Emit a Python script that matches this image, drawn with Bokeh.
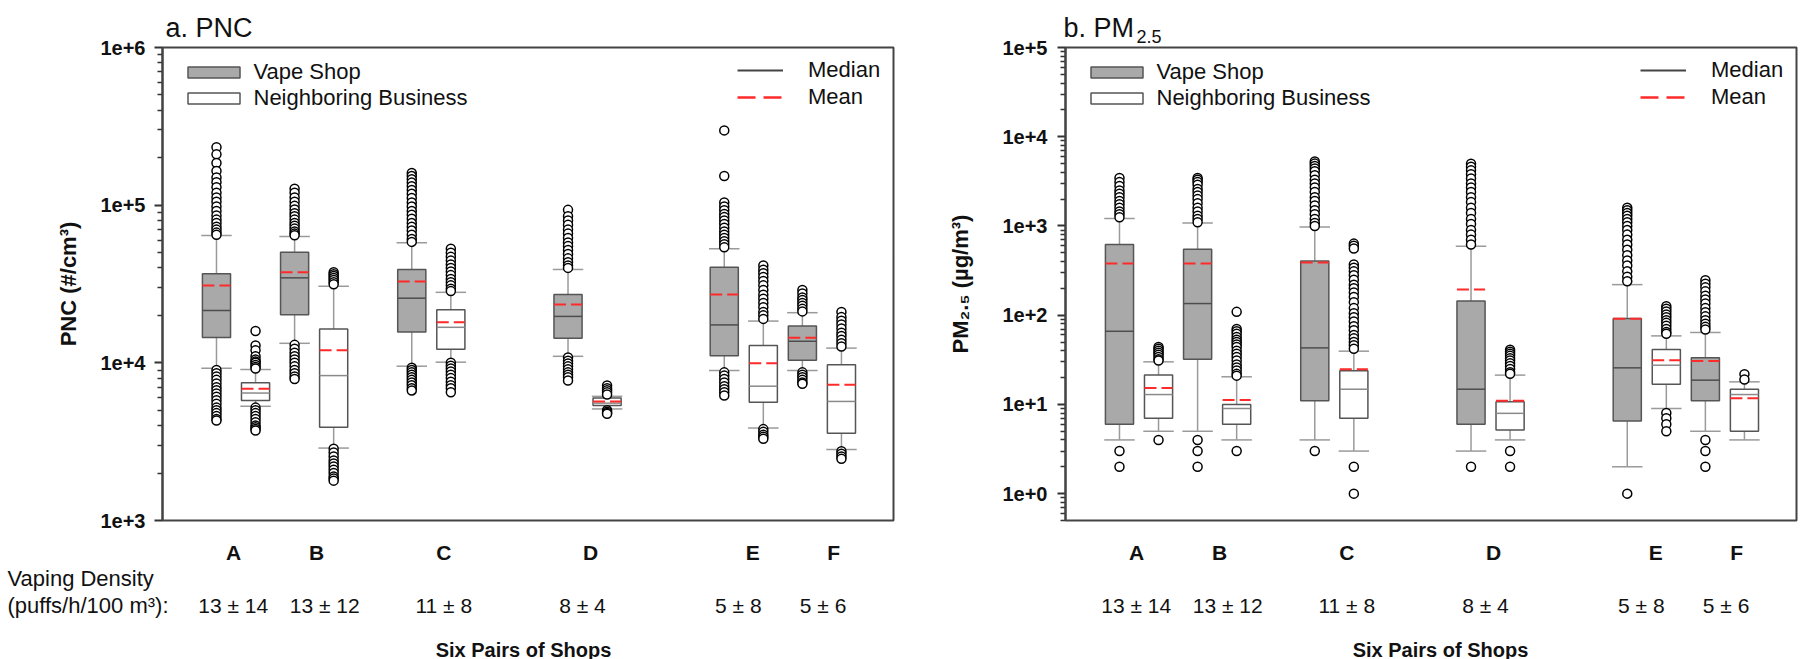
import math
from bokeh.plotting import figure
from bokeh.models import (Range1d, FixedTicker, CustomJSTickFormatter, Label, BoxAnnotation,
                          Legend, LegendItem, ColumnDataSource)
from bokeh.layouts import row
from bokeh.embed import file_html
from bokeh.resources import INLINE

# ---------------- data ----------------
pairs = ["A", "B", "C", "D", "E", "F"]
density = ["13 \u00b1 14", "13 \u00b1 12", "11 \u00b1 8", "8 \u00b1 4", "5 \u00b1 8", "5 \u00b1 6"]

# PNC (#/cm3) - vape shops
pnc_vape_low = [9250, 13300, 9520, 11000, 8940, 8940]
pnc_vape_q1 = [14500, 20200, 15700, 14300, 11100, 10400]
pnc_vape_median = [21500, 34600, 25700, 19700, 17400, 13700]
pnc_vape_q3 = [36700, 50300, 39100, 27100, 40400, 17100]
pnc_vape_high = [64300, 63300, 57700, 39100, 52900, 20800]
pnc_vape_mean = [30900, 37600, 32800, 23400, 27100, 14400]
pnc_vape_outliers = [
    [233000, 210000, 185000, 165000, 150000, 140000, 130000, 120000, 112000, 105000, 98000,
     92000, 86000, 81000, 77000, 73000, 70000, 67000, 65000,
     9000, 8600, 8200, 7800, 7400, 7000, 6700, 6400, 6100, 5800, 5500, 5200, 5000, 4800, 4600, 4400, 4300],
    [127000, 120000, 112000, 105000, 99000, 94000, 89000, 85000, 81000, 77000, 74000, 71000, 68000, 66000, 64500,
     13000, 12300, 11600, 11000, 10500, 10000, 9500, 9000, 8600, 8200, 7900],
    [160000, 153000, 146000, 139000, 132000, 125000, 118000, 111000, 104000, 98000, 92000, 87000, 82000,
     77000, 73000, 69000, 65000, 61000, 58500,
     9300, 9000, 8700, 8400, 8100, 7800, 7500, 7200, 6900, 6680],
    [93400, 85000, 80000, 75000, 70000, 66000, 62000, 58000, 55000, 52000, 49000, 46000, 43500, 41500, 40000,
     10800, 10300, 9900, 9500, 9100, 8700, 8400, 8100, 7730],
    [298000, 153000, 104000, 98000, 93000, 88000, 84000, 80000, 76000, 72000, 68000, 65000, 62000, 59000, 56500, 54000,
     8700, 8300, 7900, 7500, 7100, 6800, 6500, 6200],
    [29000, 27500, 26000, 25000, 24000, 23000, 22000, 21200,
     8700, 8400, 8100, 7800, 7500, 7370],
]
# PNC - neighboring businesses
pnc_nb_low = [5300, 2880, 10100, 5100, 3860, 2820]
pnc_nb_q1 = [5770, 3910, 12200, 5370, 5630, 3580]
pnc_nb_median = [6430, 8300, 16800, 5550, 7110, 5690]
pnc_nb_q3 = [7470, 16400, 21700, 5980, 12900, 9720]
pnc_nb_high = [9070, 30600, 28000, 6130, 18400, 12400]
pnc_nb_mean = [6840, 12000, 18100, 5690, 9950, 7260]
pnc_nb_outliers = [
    [15900, 12900, 12000, 11000, 10500, 10200, 10000, 9700, 9400, 9200,
     5200, 5000, 4800, 4600, 4400, 4200, 4000, 3900, 3800, 3720],
    [37600, 36500, 35500, 34500, 33500, 32500, 31500,
     2850, 2700, 2550, 2400, 2300, 2200, 2100, 2000, 1900, 1850, 1790],
    [52900, 50000, 47000, 44500, 42000, 40000, 38000, 36000, 34000, 32500, 31000, 29500, 28500,
     10000, 9600, 9200, 8800, 8400, 8000, 7600, 7200, 6900, 6510],
    [7180, 6900, 6700, 6500, 6300,
     5000, 4900, 4800, 4750],
    [41400, 39000, 37000, 35000, 33000, 31000, 29000, 27000, 25500, 24000, 22500, 21000, 20000, 19000,
     3800, 3650, 3500, 3400, 3300],
    [21000, 19500, 18500, 17500, 16500, 15500, 14800, 14000, 13300, 12700,
     2750, 2650, 2550, 2460],
]

# PM2.5 (ug/m3) - vape shops
pm_vape_low = [4, 5, 4, 3, 2, 5]
pm_vape_q1 = [6.0, 32, 11, 6, 6.5, 11]
pm_vape_median = [66, 135, 43, 14.8, 25.7, 18.7]
pm_vape_q3 = [618, 548, 405, 144, 92, 33.3]
pm_vape_high = [1210, 1080, 975, 592, 220, 64]
pm_vape_mean = [380, 380, 390, 194, 91, 30.6]
pm_vape_outliers = [
    [3440, 3100, 2800, 2500, 2300, 2100, 1900, 1750, 1600, 1450, 1350, 1250, 3, 2],
    [3440, 3300, 3100, 2900, 2600, 2400, 2200, 2000, 1800, 1600, 1450, 1300, 1200, 1100, 4, 3, 2],
    [5290, 5000, 4700, 4400, 4100, 3700, 3300, 3000, 2700, 2400, 2100, 1900, 1700, 1500, 1350, 1200,
     1080, 1000, 3],
    [4990, 4600, 4200, 3800, 3400, 3000, 2700, 2400, 2100, 1850, 1600, 1400, 1200, 1050, 900, 800, 700, 620, 2],
    [1600, 1500, 1400, 1300, 1200, 1100, 1000, 900, 800, 700, 620, 540, 470, 410, 360, 310, 270, 240, 1],
    [247, 225, 205, 185, 165, 150, 135, 120, 108, 97, 88, 80, 74, 69, 4, 3, 2],
]
# PM2.5 - neighboring businesses
pm_nb_low = [5, 4, 3, 4, 9, 4]
pm_nb_q1 = [7.0, 6, 7, 5.16, 16.8, 5]
pm_nb_median = [12.9, 9, 14.8, 7.94, 27.5, 12.9]
pm_nb_q3 = [21.3, 10, 23.8, 10.7, 41.3, 14.8]
pm_nb_high = [30, 20.4, 39.5, 21.3, 58.6, 17.9]
pm_nb_mean = [15.3, 11.2, 24.8, 11, 31.3, 11.7]
pm_nb_outliers = [
    [44, 42, 40, 38, 36, 34, 32, 31, 4],
    [109, 70, 66, 62, 57, 53, 50, 47, 44, 40, 37, 34, 31, 28, 26, 24, 22, 21, 3],
    [634, 600, 560, 370, 340, 310, 280, 250, 220, 200, 180, 160, 140, 120, 105, 95, 85, 75, 68, 60,
     55, 50, 46, 42, 2, 1],
    [41, 39, 37, 35, 33, 31, 29, 27, 25, 23, 22, 3, 2],
    [126, 118, 110, 102, 95, 88, 82, 76, 70, 65, 62, 8, 7, 6, 5],
    [21.8, 19],
]

# ---------------- layout / style ----------------
FONT = "Liberation Sans"
TXT = "#111111"
VAPE_FILL = "#a9a9a9"
BOX_LINE = "#555555"
WHISK = "#9a9a9a"
FRAME_C = "#444444"
MEAN_C = "#ff2a2a"
NAN = float("nan")

pair_center = [0.5, 2.5, 5.5, 9.5, 13.5, 15.5]
letter_x = [0.44, 2.56, 5.82, 9.58, 13.73, 15.80]
density_x = [0.43, 2.77, 5.82, 9.37, 13.36, 15.53]
vape_x = [c - 0.5 for c in pair_center]
nb_x = [c + 0.5 for c in pair_center]

BOX_W = 0.72
CAP_W = 0.78
PX_PER_SLOT = 39.06
X_VIS_START = -1.382
BOX_W_PX = 731
X_VIS_END = X_VIS_START + BOX_W_PX / PX_PER_SLOT
PAGE_Y0 = 0            # bokeh's page template has no body margin
HEIGHT = 659
BOX_TOP = 47           # page pixels of the plotting box
BOX_BOTTOM = 520


def draw_group(p, xs, low, q1, med, q3, high, mean, outliers, fill, med_color):
    src = ColumnDataSource(dict(
        x=xs, low=low, q1=q1, med=med, q3=q3, high=high, mean=mean,
        xl=[x - BOX_W / 2 for x in xs], xr=[x + BOX_W / 2 for x in xs],
        cl=[x - CAP_W / 2 for x in xs], cr=[x + CAP_W / 2 for x in xs]))
    p.segment(x0="x", y0="q3", x1="x", y1="high", source=src, line_color=WHISK, line_width=1.5)
    p.segment(x0="x", y0="q1", x1="x", y1="low", source=src, line_color=WHISK, line_width=1.5)
    p.segment(x0="cl", y0="high", x1="cr", y1="high", source=src, line_color=WHISK, line_width=1.5)
    p.segment(x0="cl", y0="low", x1="cr", y1="low", source=src, line_color=WHISK, line_width=1.5)
    box = p.vbar(x="x", width=BOX_W, top="q3", bottom="q1", source=src,
                 fill_color=fill, line_color=BOX_LINE, line_width=1.5)
    p.segment(x0="xl", y0="med", x1="xr", y1="med", source=src, line_color=med_color, line_width=1.5)
    p.segment(x0="xl", y0="mean", x1="xr", y1="mean", source=src, line_color=MEAN_C,
              line_width=2, line_dash="12 5")
    ox, oy = [], []
    for x, vals in zip(xs, outliers):
        for v in vals:
            ox.append(x)
            oy.append(v)
    p.scatter(ox, oy, marker="circle", size=9, fill_color="white", line_color="black", line_width=1.5)
    return box


def make_panel(canvas_left, width, box_left, y_lo, y_hi, exp_lo, exp_hi,
               ylabel, label_standoff, axis_label_standoff, vape, nb, six_center):
    lo, hi = math.log10(y_lo), math.log10(y_hi)

    def X(px):  # page x -> data x
        return X_VIS_START + (px - box_left) / PX_PER_SLOT

    def Y(py):  # page y -> data y
        return 10 ** (hi - (py - BOX_TOP) * (hi - lo) / (BOX_BOTTOM - BOX_TOP))

    p = figure(width=width, height=HEIGHT,
               x_range=Range1d(X(canvas_left), X(canvas_left + width)),
               y_range=Range1d(Y(PAGE_Y0 + HEIGHT), Y(PAGE_Y0)),
               y_axis_type="log", x_axis_location=None,
               output_backend="svg", toolbar_location=None,
               min_border=0, min_border_left=0, min_border_right=0,
               min_border_top=0, min_border_bottom=0)
    p.grid.visible = False
    p.outline_line_color = None
    p.background_fill_color = "white"
    p.border_fill_color = "white"

    majors = [10.0 ** e for e in range(exp_lo, exp_hi + 1)]
    minors = [m * 10.0 ** e for e in range(exp_lo - 1, exp_hi) for m in range(2, 10)
              if y_lo <= m * 10.0 ** e <= y_hi]
    ax = p.yaxis[0]
    ax.fixed_location = X_VIS_START
    ax.bounds = (y_lo, y_hi)
    ax.ticker = FixedTicker(ticks=majors, minor_ticks=minors)
    ax.formatter = CustomJSTickFormatter(code="return '1e+' + Math.round(Math.log10(tick));")
    ax.major_label_text_font = FONT
    ax.major_label_text_font_style = "bold"
    ax.major_label_text_font_size = "20px"
    ax.major_label_text_color = TXT
    ax.major_label_standoff = label_standoff
    ax.axis_line_color = "#333333"
    ax.axis_line_width = 2
    ax.major_tick_line_color = "#333333"
    ax.major_tick_line_width = 2
    ax.minor_tick_line_color = "#333333"
    ax.minor_tick_line_width = 1.5
    ax.major_tick_out = 8
    ax.major_tick_in = 0
    ax.minor_tick_out = 5
    ax.minor_tick_in = 0
    ax.axis_label = ylabel
    ax.axis_label_text_font = FONT
    ax.axis_label_text_font_style = "bold"
    ax.axis_label_text_font_size = "22px"
    ax.axis_label_text_color = TXT
    ax.axis_label_standoff = axis_label_standoff

    # plotting box (top / right / bottom edges)
    p.add_layout(BoxAnnotation(left=X_VIS_START, right=X_VIS_END, bottom=y_lo, top=y_hi,
                               fill_alpha=0, line_color=FRAME_C, line_alpha=1, line_width=2))

    box_v = draw_group(p, vape_x, *vape, fill=VAPE_FILL, med_color="#4d4d4d")
    box_n = draw_group(p, nb_x, *nb, fill="white", med_color="#8a8a8a")

    med_leg = p.segment(x0=[NAN], y0=[NAN], x1=[NAN], y1=[NAN], line_color="#444444", line_width=2)
    mean_leg = p.segment(x0=[NAN], y0=[NAN], x1=[NAN], y1=[NAN], line_color=MEAN_C, line_width=2.5,
                         line_dash="18 8")

    canvas_bottom = PAGE_Y0 + HEIGHT
    leg1 = Legend(items=[LegendItem(label="Vape Shop", renderers=[box_v]),
                         LegendItem(label="Neighboring Business", renderers=[box_n])],
                  location=(box_left + 18.5 - canvas_left, canvas_bottom - 59 - 52),
                  glyph_width=65, glyph_height=14,
                  label_standoff=8, label_height=26, spacing=0, padding=0, margin=0,
                  border_line_alpha=0, background_fill_alpha=0,
                  label_text_font=FONT, label_text_font_size="22px", label_text_color=TXT)
    leg2 = Legend(items=[LegendItem(label="Median", renderers=[med_leg]),
                         LegendItem(label="Mean", renderers=[mean_leg])],
                  location=(box_left + 575 - canvas_left, canvas_bottom - 56 - 54),
                  glyph_width=46, glyph_height=14,
                  label_standoff=25, label_height=27, spacing=0, padding=0, margin=0,
                  border_line_alpha=0, background_fill_alpha=0,
                  label_text_font=FONT, label_text_font_size="22px", label_text_color=TXT)
    p.add_layout(leg1)
    p.add_layout(leg2)

    # texts below the box
    for x, t in zip(letter_x, pairs):
        p.add_layout(Label(x=x, y=Y(552), text=t, text_font=FONT, text_font_size="21px",
                           text_font_style="bold", text_align="center", text_baseline="alphabetic",
                           text_color=TXT))
    for x, t in zip(density_x, density):
        p.add_layout(Label(x=x, y=Y(605), text=t, text_font=FONT, text_font_size="21px",
                           text_align="center", text_baseline="alphabetic", text_color=TXT))
    p.add_layout(Label(x=X(six_center), y=Y(649), text="Six Pairs of Shops", text_font=FONT,
                       text_font_size="20px", text_font_style="bold", text_align="center",
                       text_baseline="alphabetic", text_color=TXT))
    return p, X, Y


# left panel: canvas spans page x 0..935, box 162..893
p1, X1, Y1 = make_panel(0, 935, 162, 1e3, 1e6, 3, 6, "PNC (#/cm\u00b3)", 9, 16,
                        (pnc_vape_low, pnc_vape_q1, pnc_vape_median, pnc_vape_q3, pnc_vape_high,
                         pnc_vape_mean, pnc_vape_outliers),
                        (pnc_nb_low, pnc_nb_q1, pnc_nb_median, pnc_nb_q3, pnc_nb_high,
                         pnc_nb_mean, pnc_nb_outliers),
                        523)
p1.add_layout(Label(x=X1(165), y=Y1(27), text="a. PNC", text_font=FONT, text_font_size="27px",
                    text_align="left", text_baseline="alphabetic", text_color=TXT))
p1.add_layout(Label(x=X1(7), y=Y1(578), text="Vaping Density", text_font=FONT,
                    text_font_size="22px", text_align="left", text_baseline="alphabetic",
                    text_color=TXT))
p1.add_layout(Label(x=X1(7), y=Y1(605), text="(puffs/h/100 m\u00b3):", text_font=FONT,
                    text_font_size="22px", text_align="left", text_baseline="alphabetic",
                    text_color=TXT))

# right panel: canvas spans page x 935..1800, box 1065..1796
p2, X2, Y2 = make_panel(935, 865, 1065, 0.5, 1e5, 0, 5, "PM\u2082.\u2085 (\u00b5g/m\u00b3)", 10, 26,
                        (pm_vape_low, pm_vape_q1, pm_vape_median, pm_vape_q3, pm_vape_high,
                         pm_vape_mean, pm_vape_outliers),
                        (pm_nb_low, pm_nb_q1, pm_nb_median, pm_nb_q3, pm_nb_high,
                         pm_nb_mean, pm_nb_outliers),
                        1440)
p2.add_layout(Label(x=X2(1063), y=Y2(27), text="b. PM", text_font=FONT, text_font_size="27px",
                    text_align="left", text_baseline="alphabetic", text_color=TXT))
p2.add_layout(Label(x=X2(1136), y=Y2(36), text="2.5", text_font=FONT, text_font_size="18px",
                    text_align="left", text_baseline="alphabetic", text_color=TXT))

layout = row(p1, p2)
open("out.html", "w").write(file_html(layout, INLINE))
